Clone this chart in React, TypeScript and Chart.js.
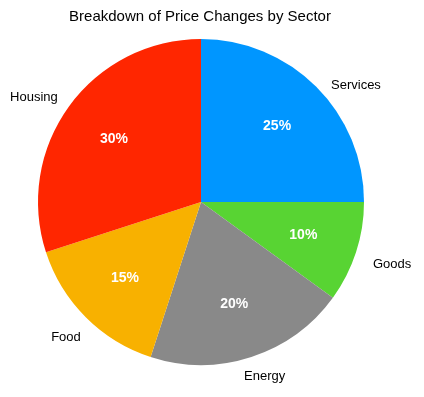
import React, { useEffect, useRef } from "react";
import { Chart, registerables } from "chart.js";

Chart.register(...registerables);

const TITLE = "Breakdown of Price Changes by Sector";
const categories = ["Services", "Goods", "Energy", "Food", "Housing"];
const values = [25, 10, 20, 15, 30];
const colors = ["#0096FF", "#58D433", "#898989", "#F8B100", "#FF2600"];

const FONT = '"Liberation Sans", Arial, Helvetica, sans-serif';

// label placement tweaks (degrees of angular shift, extra radial gap in px)
const LABEL_TWEAK: Record<string, [number, number]> = {
  Services: [8, 31],
  Goods: [0, 38],
  Energy: [-2, 23],
  Food: [0, 28],
  Housing: [-4, 34],
};

const labelPlugin = {
  id: "pieLabels",
  afterDraw(chart: any) {
    const ctx = chart.ctx as CanvasRenderingContext2D;
    const meta = chart.getDatasetMeta(0);
    const total = values.reduce((a, b) => a + b, 0);
    ctx.save();
    ctx.fillStyle = "#000";
    ctx.font = `15px ${FONT}`;
    ctx.textAlign = "center";
    ctx.textBaseline = "middle";
    ctx.fillText(TITLE, 200, 17);
    meta.data.forEach((arc: any, i: number) => {
      const { x, y, startAngle, endAngle, outerRadius } = arc.getProps(
        ["x", "y", "startAngle", "endAngle", "outerRadius"],
        true
      );
      const mid = (startAngle + endAngle) / 2;
      ctx.fillStyle = "#fff";
      ctx.font = `bold 14px ${FONT}`;
      const pr = outerRadius * 0.66;
      ctx.fillText(
        Math.round((values[i] / total) * 100) + "%",
        x + Math.cos(mid) * pr,
        y + Math.sin(mid) * pr
      );
      const [dA, gap] = LABEL_TWEAK[categories[i]] || [0, 30];
      const la = mid + (dA * Math.PI) / 180;
      const lr = outerRadius + gap;
      ctx.fillStyle = "#000";
      ctx.font = `13px ${FONT}`;
      ctx.fillText(categories[i], x + Math.cos(la) * lr, y + Math.sin(la) * lr);
    });
    ctx.restore();
  },
};

export default function App() {
  const ref = useRef<HTMLCanvasElement>(null);
  useEffect(() => {
    if (!ref.current) return;
    const chart = new Chart(ref.current, {
      type: "pie",
      data: {
        labels: categories,
        datasets: [
          {
            data: values,
            backgroundColor: colors,
            borderWidth: 0,
          },
        ],
      },
      options: {
        responsive: false,
        animation: false,
        layout: { padding: { left: 38, right: 60, top: 39, bottom: 32 } },
        plugins: {
          legend: { display: false },
          title: { display: false },
          tooltip: { enabled: false },
        },
      },
      plugins: [labelPlugin],
    });
    return () => chart.destroy();
  }, []);
  return (
    <div style={{ position: "fixed", left: 0, top: 0, width: 424, height: 397, background: "#fff" }}>
      <canvas ref={ref} width={424} height={397} style={{ width: 424, height: 397 }} />
    </div>
  );
}
